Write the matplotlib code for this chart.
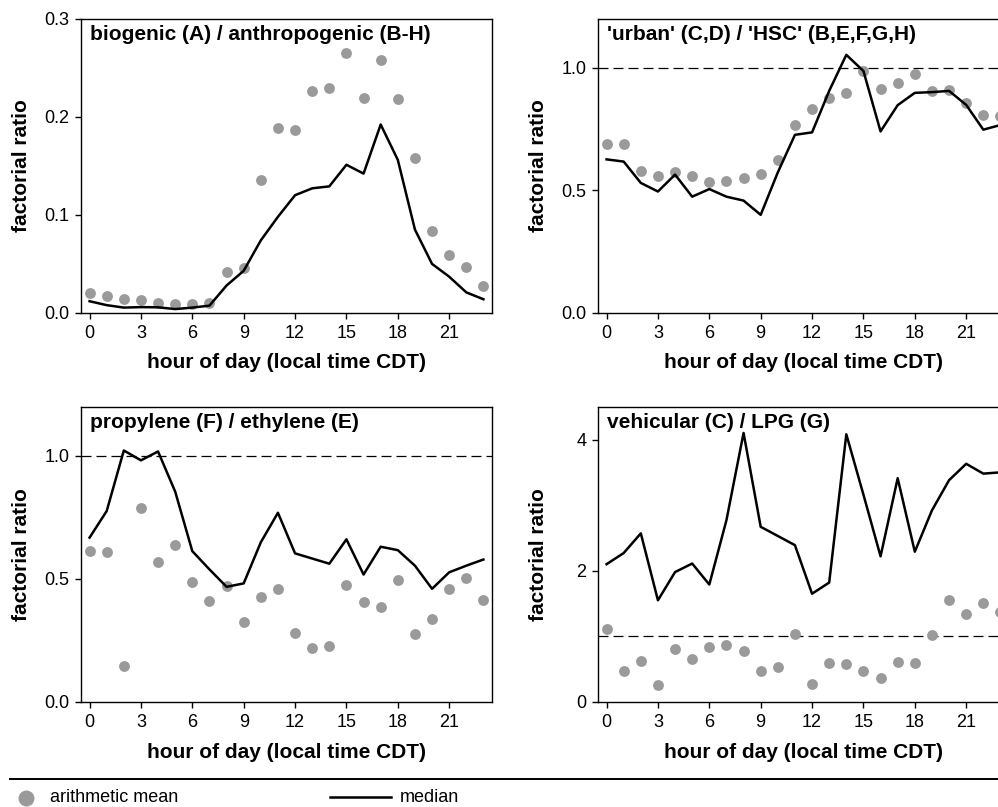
import matplotlib
matplotlib.use("Agg")
import matplotlib.pyplot as plt
from matplotlib.lines import Line2D
import numpy as np

plt.rcParams['font.family'] = ['Liberation Sans', 'DejaVu Sans']

# hours of the day
hours = np.arange(24)
hour_ticks = [0, 3, 6, 9, 12, 15, 18, 21]

# biogenic (A) / anthropogenic (B-H)
bio_mean = [0.020, 0.017, 0.014, 0.013, 0.010, 0.009, 0.009, 0.010, 0.042, 0.046,
            0.135, 0.188, 0.186, 0.226, 0.229, 0.265, 0.219, 0.258, 0.218, 0.158,
            0.084, 0.059, 0.047, 0.028]
bio_median = [0.012, 0.008, 0.0055, 0.006, 0.0058, 0.004, 0.0055, 0.0075, 0.028, 0.043,
              0.074, 0.098, 0.120, 0.127, 0.129, 0.151, 0.142, 0.192, 0.156, 0.085,
              0.050, 0.037, 0.021, 0.014]

# 'urban' (C,D) / 'HSC' (B,E,F,G,H)
urb_mean = [0.688, 0.688, 0.577, 0.558, 0.575, 0.560, 0.533, 0.538, 0.550, 0.566,
            0.625, 0.766, 0.833, 0.875, 0.896, 0.985, 0.912, 0.938, 0.972, 0.904,
            0.908, 0.856, 0.806, 0.802]
urb_median = [0.626, 0.617, 0.530, 0.495, 0.564, 0.474, 0.505, 0.474, 0.458, 0.400,
              0.573, 0.726, 0.736, 0.905, 1.052, 0.986, 0.740, 0.847, 0.897, 0.900,
              0.905, 0.848, 0.747, 0.766]

# propylene (F) / ethylene (E)
pro_mean = [0.615, 0.608, 0.145, 0.790, 0.569, 0.638, 0.486, 0.411, 0.472, 0.326,
            0.425, 0.460, 0.280, 0.220, 0.228, 0.476, 0.406, 0.388, 0.495, 0.277,
            0.338, 0.460, 0.502, 0.415]
pro_median = [0.668, 0.776, 1.022, 0.982, 1.018, 0.855, 0.613, 0.539, 0.468, 0.482,
              0.649, 0.769, 0.604, 0.583, 0.562, 0.661, 0.518, 0.631, 0.617, 0.554,
              0.460, 0.527, 0.554, 0.579]

# vehicular (C) / LPG (G)
veh_mean = [1.12, 0.48, 0.63, 0.26, 0.81, 0.66, 0.84, 0.87, 0.77, 0.47,
            0.53, 1.04, 0.27, 0.59, 0.58, 0.48, 0.37, 0.61, 0.60, 1.02,
            1.56, 1.34, 1.51, 1.37]
veh_median = [2.10, 2.27, 2.57, 1.55, 1.98, 2.11, 1.79, 2.77, 4.10, 2.67,
              2.53, 2.39, 1.65, 1.82, 4.08, 3.16, 2.22, 3.41, 2.29, 2.92,
              3.38, 3.63, 3.48, 3.50]

panels = [
    ("biogenic (A) / anthropogenic (B-H)", bio_mean, bio_median, 0.3, [0, 0.1, 0.2, 0.3], "{:.1f}", False),
    ("'urban' (C,D) / 'HSC' (B,E,F,G,H)", urb_mean, urb_median, 1.2, [0, 0.5, 1.0], "{:.1f}", True),
    ("propylene (F) / ethylene (E)", pro_mean, pro_median, 1.2, [0, 0.5, 1.0], "{:.1f}", True),
    ("vehicular (C) / LPG (G)", veh_mean, veh_median, 4.5, [0, 2, 4], "{:.0f}", True),
]

W, H = 998, 807
fig = plt.figure(figsize=(W / 100, H / 100), dpi=100)

# axes boxes in pixels: left, top, width, height
boxes = [(81, 18.5, 411, 294.5), (598, 18.5, 411, 294.5),
         (81, 406.7, 411, 295.3), (598, 406.7, 411, 295.3)]

mean_color = '#9a9a9a'

for (title, mean, median, ymax, yticks, fmt, ref), (lx, ty, w, h) in zip(panels, boxes):
    ax = fig.add_axes([lx / W, (H - ty - h) / H, w / W, h / H])
    ax.plot(hours, mean, 'o', color=mean_color, markersize=7.8, markeredgewidth=0, zorder=2)
    ax.plot(hours, median, '-', color='black', linewidth=1.8, zorder=3)
    if ref:
        ax.axhline(1.0, color='black', linewidth=0.9, linestyle=(0, (8, 4)), zorder=1)

    ax.set_xlim(-0.5, 23.5)
    ax.set_ylim(0, ymax)
    ax.set_xticks(hour_ticks)
    ax.set_yticks(yticks)
    ax.set_yticklabels([fmt.format(v) for v in yticks])
    ax.tick_params(direction='out', length=4, width=1, labelsize=13, pad=4.5)
    for sp in ax.spines.values():
        sp.set_linewidth(1.0)

    ax.text(0.022, 0.978, title, transform=ax.transAxes, ha='left', va='top',
            fontsize=15, fontweight='bold')

    ax.set_xlabel('hour of day (local time CDT)', fontsize=15, fontweight='bold')
    ax.xaxis.set_label_coords(0.5, -50 / h)
    ax.xaxis.label.set_va('center')
    ax.set_ylabel('factorial ratio', fontsize=15, fontweight='bold')
    ax.yaxis.set_label_coords(-59 / w, 0.5)
    ax.yaxis.label.set_va('center')

# legend strip at the bottom
fig.add_artist(Line2D([10 / W, 1.0], [(H - 779) / H] * 2, color='black', linewidth=1.4))
fig.add_artist(Line2D([26 / W], [(H - 798) / H], marker='o', color=mean_color,
                      markersize=11.5, markeredgewidth=0, linestyle='none'))
fig.text(50 / W, (H - 798) / H, 'arithmetic mean', fontsize=13, va='center', ha='left')
fig.add_artist(Line2D([330 / W, 391 / W], [(H - 797) / H] * 2, color='black', linewidth=1.8))
fig.text(400 / W, (H - 798) / H, 'median', fontsize=13, va='center', ha='left')

fig.savefig('out.png', dpi=100)
